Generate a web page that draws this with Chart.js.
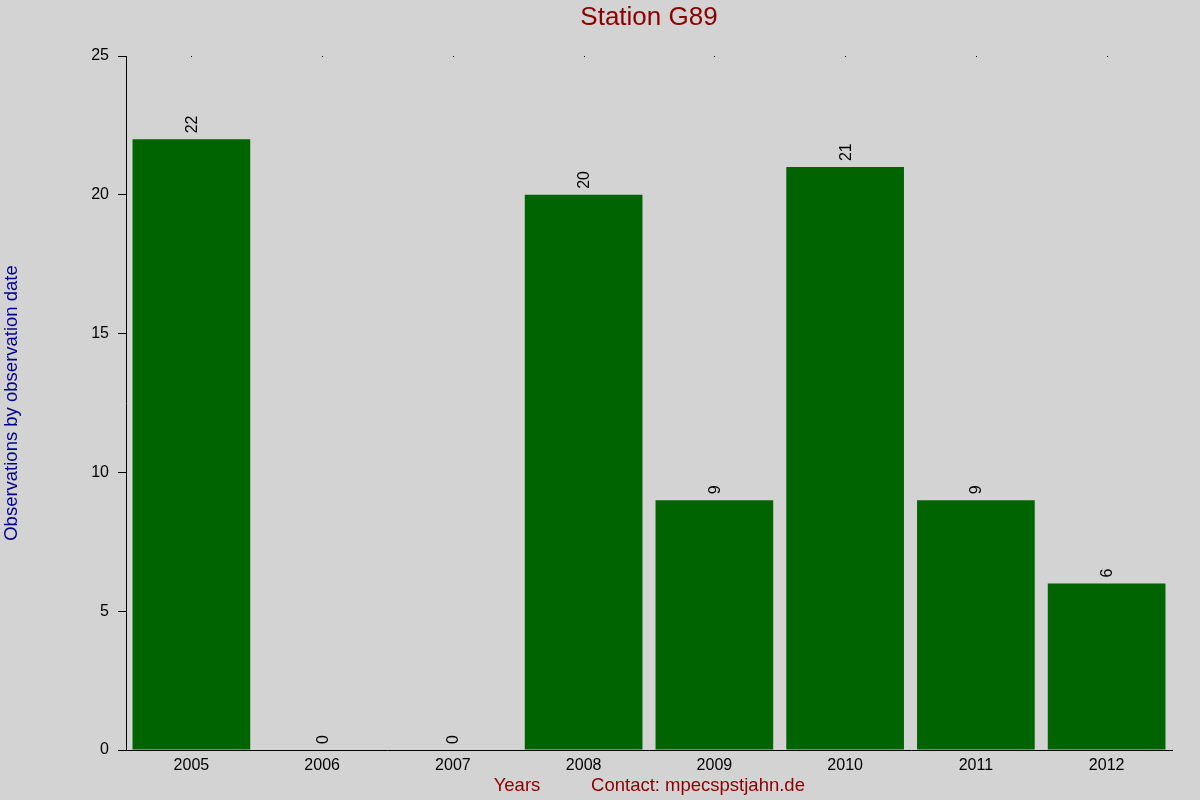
<!DOCTYPE html>
<html>
<head>
<meta charset="utf-8">
<script src="https://cdn.jsdelivr.net/npm/chart.js@4/dist/chart.umd.min.js"></script>
<style>
    html, body { margin: 0; padding: 0; background: #d3d3d3; }
    #wrap { width: 1200px; height: 800px; position: relative; }
</style>
</head>
<body>
<div id="wrap"><canvas id="chart"></canvas></div>
<script>
const years = ['2005', '2006', '2007', '2008', '2009', '2010', '2011', '2012'];
const observations = [22, 0, 0, 20, 9, 21, 9, 6];
const yTicks = [0, 5, 10, 15, 20, 25];

const FONT = '"Liberation Sans", Arial, sans-serif';

// Text and value labels drawn on top of the chart
const decorations = {
    id: 'decorations',
    afterDatasetsDraw(chart) {
        const ctx = chart.ctx;
        const x = chart.scales.x;
        const area = chart.chartArea;
        ctx.save();

        // value labels above each bar, rotated
        ctx.fillStyle = '#000';
        ctx.font = '16px ' + FONT;
        chart.getDatasetMeta(0).data.forEach((bar, i) => {
            ctx.save();
            ctx.translate(bar.x + 1, bar.y - 6);
            ctx.rotate(-Math.PI / 2);
            ctx.textAlign = 'left';
            ctx.textBaseline = 'middle';
            ctx.fillText(String(observations[i]), 0, 0);
            ctx.restore();
        });

        // small tick dots along the top edge
        years.forEach((_, i) => {
            ctx.fillRect(Math.round(x.getPixelForValue(i)), area.top, 1, 1);
        });

        // title
        ctx.fillStyle = '#8b0000';
        ctx.font = '26px ' + FONT;
        ctx.textAlign = 'center';
        ctx.textBaseline = 'middle';
        ctx.fillText('Station G89', 649, 18);

        // bottom captions
        ctx.font = '18.5px ' + FONT;
        ctx.fillText('Years', 517, 786);
        ctx.fillText('Contact: mpecspstjahn.de', 698, 786);

        // y axis title
        ctx.fillStyle = '#00008b';
        ctx.save();
        ctx.translate(12, 403);
        ctx.rotate(-Math.PI / 2);
        ctx.fillText('Observations by observation date', 0, 0);
        ctx.restore();

        ctx.restore();
    }
};

new Chart(document.getElementById('chart').getContext('2d'), {
    type: 'bar',
    data: {
        labels: years,
        datasets: [{
            data: observations,
            backgroundColor: '#006400',
            borderWidth: 0,
            barPercentage: 0.9,
            categoryPercentage: 1.0
        }]
    },
    options: {
        responsive: true,
        maintainAspectRatio: false,
        animation: false,
        layout: { padding: { top: 56, right: 28, bottom: 0, left: 0 } },
        plugins: {
            legend: { display: false },
            title: { display: false },
            tooltip: { enabled: false }
        },
        scales: {
            x: {
                grid: { display: false, drawTicks: false },
                border: { display: true, color: '#000', width: 1 },
                ticks: { color: '#000', font: { size: 16, family: FONT }, padding: 6 },
                afterFit: s => { s.height = 50; }
            },
            y: {
                min: 0,
                max: 25,
                afterBuildTicks: s => { s.ticks = yTicks.map(v => ({ value: v })); },
                grid: { drawOnChartArea: false, drawTicks: true, tickLength: 8, color: '#000' },
                border: { display: true, color: '#000', width: 1 },
                ticks: { color: '#000', font: { size: 16, family: FONT }, padding: 9 },
                afterFit: s => { s.width = 126; }
            }
        }
    },
    plugins: [decorations]
});
</script>
</body>
</html>
